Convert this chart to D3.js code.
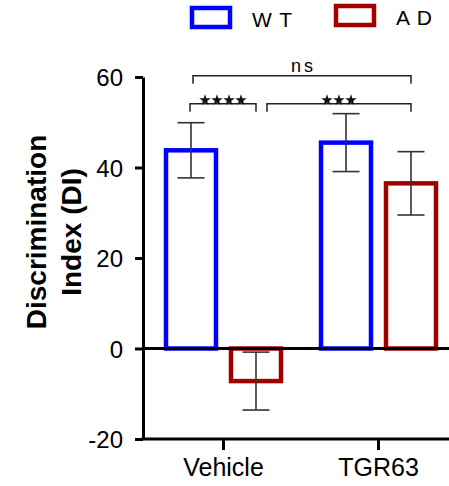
<!DOCTYPE html>
<html>
<head>
<meta charset="utf-8">
<script src="https://cdn.jsdelivr.net/npm/d3@7"></script>
<style>
  body { margin: 0; background: #fff; }
  text { font-family: "Liberation Sans", Arial, sans-serif; fill: #000; }
</style>
</head>
<body>
<svg id="chart" width="449" height="486"></svg>
<script>
// data
const categories = ['Vehicle', 'TGR63']
const groups = ['WT', 'AD']
const groupLabels = ['W T', 'A D']
const meansWT = [43.8, 45.5]
const meansAD = [-7.2, 36.5]
const semWT = [6.1, 6.4]
const semAD = [6.4, 7.0]
const yTicks = [-20, 0, 20, 40, 60]
// significance brackets: [category, group] -> [category, group], level (DI units), label
const comparisons = [
  { a: ['Vehicle', 'WT'], b: ['TGR63', 'AD'], level: 60.3, label: 'ns', stars: 0, shiftA: 2 },
  { a: ['Vehicle', 'WT'], b: ['Vehicle', 'AD'], level: 54.1, label: '', stars: 4, shiftA: -1 },
  { a: ['Vehicle', 'AD'], b: ['TGR63', 'AD'], level: 54.1, label: '', stars: 3, shiftA: 11 }
]

const colors = { WT: '#0000ff', AD: '#a00000' }

const rows = []
categories.forEach((c, i) => {
  rows.push({ cat: c, grp: 'WT', mean: meansWT[i], sem: semWT[i] })
  rows.push({ cat: c, grp: 'AD', mean: meansAD[i], sem: semAD[i] })
})

const svg = d3.select('#chart')
const axisX = 143

// scales
const x0 = d3.scaleBand().domain(categories).range([146, 456]).padding(0)
const bw = x0.bandwidth()
const x1 = d3.scaleBand().domain(groups)
  .range([bw / 2 - 65, bw / 2 + 65])
  .paddingInner(0.2308).paddingOuter(0.1154)
const y = d3.scaleLinear().domain([-20, 60]).range([439, 77])

const cx = (c, g) => x0(c) + x1(g) + x1.bandwidth() / 2

// bars
svg.append('g').attr('class', 'bars')
  .selectAll('rect').data(rows).enter()
  .append('rect')
  .attr('x', d => x0(d.cat) + x1(d.grp))
  .attr('width', x1.bandwidth())
  .attr('y', d => y(Math.max(0, d.mean)))
  .attr('height', d => Math.abs(y(d.mean) - y(0)))
  .attr('fill', 'white')
  .attr('stroke', d => colors[d.grp])
  .attr('stroke-width', 4.5)

// error bars
const err = svg.append('g').attr('class', 'errors')
  .attr('stroke', '#333').attr('stroke-width', 1.6)
  .selectAll('g').data(rows).enter().append('g')
err.append('line')
  .attr('x1', d => cx(d.cat, d.grp)).attr('x2', d => cx(d.cat, d.grp))
  .attr('y1', d => y(d.mean + d.sem)).attr('y2', d => y(d.mean - d.sem))
err.append('line')
  .attr('x1', d => cx(d.cat, d.grp) - 13.5).attr('x2', d => cx(d.cat, d.grp) + 13.5)
  .attr('y1', d => y(d.mean + d.sem)).attr('y2', d => y(d.mean + d.sem))
err.append('line')
  .attr('x1', d => cx(d.cat, d.grp) - 13.5).attr('x2', d => cx(d.cat, d.grp) + 13.5)
  .attr('y1', d => y(d.mean - d.sem)).attr('y2', d => y(d.mean - d.sem))

// zero line
svg.append('line')
  .attr('x1', axisX).attr('x2', 449)
  .attr('y1', y(0)).attr('y2', y(0))
  .attr('stroke', '#000').attr('stroke-width', 3)

// y axis
const yAxis = svg.append('g')
  .attr('transform', `translate(${axisX},0)`)
  .call(d3.axisLeft(y).tickValues(yTicks).tickFormat(d => String(d))
    .tickSize(8).tickPadding(12).tickSizeOuter(0))
yAxis.select('.domain').attr('stroke-width', 3)
yAxis.selectAll('.tick line').attr('stroke-width', 3)
yAxis.selectAll('.tick text')
  .attr('font-size', 24).attr('font-family', '"Liberation Sans", Arial, sans-serif')
  .attr('fill', '#000').attr('dy', '0.36em')

// x axis
const xAxis = svg.append('g')
  .attr('transform', `translate(0,${y(-20)})`)
xAxis.append('line')
  .attr('x1', axisX - 1.5).attr('x2', 449)
  .attr('stroke', '#000').attr('stroke-width', 3)
xAxis.selectAll('line.tick').data(categories).enter()
  .append('line').attr('class', 'tick')
  .attr('x1', d => x0(d) + bw / 2).attr('x2', d => x0(d) + bw / 2)
  .attr('y1', 0).attr('y2', 11)
  .attr('stroke', '#000').attr('stroke-width', 3)
xAxis.selectAll('text').data(categories).enter()
  .append('text')
  .attr('x', d => x0(d) + bw / 2).attr('y', 37)
  .attr('text-anchor', 'middle')
  .attr('font-size', 25)
  .text(d => d)

// y axis title
const title = svg.append('g')
  .attr('transform', 'translate(0,232) rotate(-90)')
  .attr('text-anchor', 'middle')
  .attr('font-weight', 'bold')
  .attr('font-size', 28)
title.append('text').attr('x', 0).attr('y', 46).text('Discrimination')
title.append('text').attr('x', 0).attr('y', 81).text('Index (DI)')

// significance brackets
const star = d3.symbol().type(d3.symbolStar).size(40)
const sig = svg.append('g').attr('class', 'sig')
comparisons.forEach(cmp => {
  const xa = cx(cmp.a[0], cmp.a[1]) + cmp.shiftA
  const xb = cx(cmp.b[0], cmp.b[1])
  const yl = y(cmp.level)
  sig.append('path')
    .attr('d', `M${xa},${yl + 8}V${yl}H${xb}V${yl + 8}`)
    .attr('fill', 'none').attr('stroke', '#222').attr('stroke-width', 1.5)
  const mid = (xa + xb) / 2
  if (cmp.label) {
    sig.append('text')
      .attr('x', mid + 1.5).attr('y', yl - 4)
      .attr('text-anchor', 'middle')
      .attr('font-size', 18)
      .attr('letter-spacing', 3)
      .text(cmp.label)
  }
  d3.range(cmp.stars).forEach(i => {
    const sx = mid + (i - (cmp.stars - 1) / 2) * 12
    sig.append('path')
      .attr('d', star)
      .attr('transform', `translate(${sx},${yl - 3.5})`)
      .attr('fill', '#111')
  })
})

// legend
const legend = svg.append('g').attr('class', 'legend')
const legX = [192, 336]
const legY = [8, 6]
groups.forEach((g, i) => {
  legend.append('rect')
    .attr('x', legX[i]).attr('y', legY[i])
    .attr('width', 38).attr('height', 19)
    .attr('fill', 'white')
    .attr('stroke', colors[g]).attr('stroke-width', 4.5)
  legend.append('text')
    .attr('x', legX[i] + 60).attr('y', legY[i] + 19)
    .attr('font-size', 21)
    .attr('letter-spacing', 1)
    .text(groupLabels[i])
})
</script>
</body>
</html>
